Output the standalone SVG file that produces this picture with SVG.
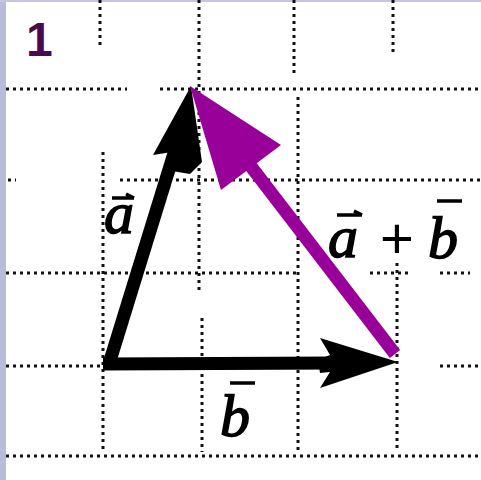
<svg xmlns="http://www.w3.org/2000/svg" width="481" height="480" viewBox="0 0 481 480">
  <style>
    .grid { stroke: #111; stroke-width: 3; stroke-dasharray: 3 4; fill: none; }
    .vec { stroke: #000; stroke-width: 13; fill: none; stroke-linecap: butt; }
    .lbl { font-family: "Liberation Serif", "Times New Roman", serif; font-style: italic; font-size: 60px; fill: #000; stroke: #000; stroke-width: 1.5; }
    .plus { font-family: "Liberation Sans", Arial, sans-serif; font-size: 58px; fill: #000; }
    .bar { stroke: #000; stroke-width: 3.5; fill: none; }
  </style>
  <rect x="0" y="0" width="481" height="480" fill="#ffffff"/>
  <rect x="0" y="0" width="6" height="480" fill="#b9bcd9"/>
  <rect x="0" y="0" width="481" height="2" fill="#c4c6df"/>

  <g id="grid">
    <line class="grid" x1="6" y1="89" x2="127" y2="89"/>
    <line class="grid" x1="160" y1="89" x2="481" y2="89"/>
    <line class="grid" x1="120" y1="180" x2="481" y2="180"/>
    <line class="grid" x1="8" y1="180" x2="16" y2="180"/>
    <line class="grid" x1="6" y1="273" x2="300" y2="273"/>
    <line class="grid" x1="370" y1="273" x2="410" y2="273"/>
    <line class="grid" x1="440" y1="273" x2="470" y2="273"/>
    <line class="grid" x1="6" y1="366" x2="100" y2="366"/>
    <line class="grid" x1="440" y1="366" x2="481" y2="366"/>
    <line class="grid" x1="6" y1="456" x2="481" y2="456"/>
    <line class="grid" x1="100" y1="0" x2="100" y2="47"/>
    <line class="grid" x1="103" y1="152" x2="103" y2="452"/>
    <line class="grid" x1="199" y1="0" x2="199" y2="290"/>
    <line class="grid" x1="202" y1="318" x2="202" y2="452"/>
    <line class="grid" x1="294" y1="0" x2="294" y2="75"/>
    <line class="grid" x1="298" y1="97" x2="298" y2="452"/>
    <line class="grid" x1="393" y1="0" x2="393" y2="52"/>
    <line class="grid" x1="397" y1="263" x2="397" y2="452"/>
  </g>

  <g id="connectors">
    <g id="vector-a">
      <line class="vec" x1="109" y1="364" x2="175" y2="150"/>
      <polygon points="191,86 153,155 172,152 166,170 190,174 202,162" fill="#000"/>
    </g>
    <g id="vector-b">
      <line class="vec" x1="103" y1="364" x2="335" y2="363"/>
      <polygon points="398,362 320,338 330,355 318,360 320,373 330,372 320,388" fill="#000"/>
    </g>
    <g id="vector-sum">
      <line x1="395" y1="354" x2="246" y2="160" stroke="#990099" stroke-width="13"/>
      <polygon points="190,86 221,190 281,145" fill="#990099"/>
    </g>
  </g>

  <g id="label-1">
    <text x="26" y="56" font-family="Liberation Sans, Arial, sans-serif" font-weight="bold" font-size="48" fill="#4b0a4b">1</text>
  </g>
  <g id="label-a">
    <path class="bar" d="M112,198 H134 M126,194 L134,198"/>
    <text class="lbl" x="104" y="233">a</text>
  </g>
  <g id="label-sum">
    <path class="bar" d="M337,215 H362 M354,211 L362,215"/>
    <text class="lbl" x="328" y="257">a</text>
    <text class="plus" x="380" y="258">+</text>
    <path class="bar" d="M437,201 H462"/>
    <text class="lbl" x="428" y="258">b</text>
  </g>
  <g id="label-b">
    <path class="bar" d="M230,383 H255"/>
    <text class="lbl" x="220" y="436">b</text>
  </g>
</svg>
